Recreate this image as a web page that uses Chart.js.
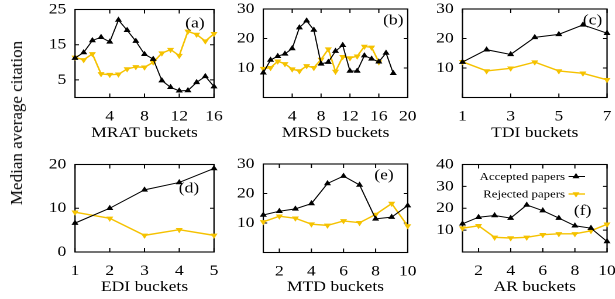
<!DOCTYPE html>
<html><head><meta charset="utf-8">
<script src="https://cdn.jsdelivr.net/npm/chart.js@4"></script>
<style>
html,body{margin:0;padding:0;background:#fff;width:615px;height:299px;overflow:hidden;}
#wrap{position:absolute;left:0;top:0;width:526px;height:299px;transform:scaleX(1.17);transform-origin:0 0;}
#wrap canvas{position:absolute;}
#ytitle{position:absolute;left:17px;top:123px;transform:translate(-50%,-50%) rotate(-90deg);font:17px "Liberation Serif";white-space:nowrap;color:#000;}
</style></head><body>
<div id="wrap"></div>
<div id="ytitle">Median average citation</div>
<script>
// ---------- data ----------
const mratBuckets   = [0,1,2,3,4,5,6,7,8,9,10,11,12,13,14,15,16];
const mratAccepted  = [11.2,12.8,16.2,17.1,15.8,22,19.1,16,12.3,10.9,4.8,2.9,1.9,2,4.3,6,3.1];
const mratRejected  = [11.4,10.7,12.4,6.7,6.5,6.6,8.1,8.7,8.6,10,12.6,13.6,11.9,18.8,17.9,16,18.1];

const mrsdBucketsAcc = [0,1,2,3,4,5,6,7,8,9,10,11,12,13,14,15,16,17,18];
const mrsdAccepted   = [8.4,12.7,14,14.8,16.6,23.7,26,22.9,11.4,12,15.7,17.7,9,9,14.2,13.1,12.1,15.1,8.2];
const mrsdBucketsRej = [0,1,2,3,4,5,6,7,8,9,10,11,12,13,14,15,16];
const mrsdRejected   = [9.8,10.1,12.3,11.4,9.6,9,10.7,10.1,12.9,16.4,8.8,13.8,13.4,14,17.3,17,12];

const tdiBuckets  = [1,2,3,4,5,6,7];
const tdiAccepted = [12,16.2,14.6,20.4,21.4,24.6,21.8];
const tdiRejected = [12.1,9,9.9,12,9,8.2,6];

const ediBuckets  = [1,2,3,4,5];
const ediAccepted = [6.6,10,14.2,15.9,19.1];
const ediRejected = [9.1,7.7,3.8,5.1,3.8];

const mtdBuckets  = [1,2,3,4,5,6,7,8,9,10];
const mtdAccepted = [12.7,14,14.8,16.6,23.4,25.9,22.9,11.4,12,15.9];
const mtdRejected = [10.4,12.3,11.6,9.6,9.2,10.7,10.1,12.9,16.6,9];

const arBuckets  = [1,2,3,4,5,6,7,8,9,10];
const arAccepted = [12.9,15.9,16.7,15.5,21.5,18.9,15.5,12,10.9,4.8];
const arRejected = [10.9,12,6.7,6.4,6.7,7.9,8.3,8.3,9.7,12.7];

// tick labels
const mratXTicks = [4,8,12,16],    mratYTicks = [5,15,25];
const mrsdXTicks = [4,8,12,16,20], mrsdYTicks = [10,20,30];
const tdiXTicks  = [1,3,5,7],      tdiYTicks  = [10,20,30];
const ediXTicks  = [1,2,3,4,5],    ediYTicks  = [0,10,20];
const mtdXTicks  = [2,4,6,8,10],   mtdYTicks  = [10,20,30];
const arXTicks   = [2,4,6,8,10],   arYTicks   = [10,20,30,40];

const seriesNames = ['Accepted papers','Rejected papers'];

// ---------- styling ----------
const S = 1.17;                 // horizontal stretch of the figure
const FONT = 'Liberation Serif';
const BLACK = '#000000', GOLD = '#f5c200';

function pts(xs, ys){ return xs.map((x,i)=>({x:x, y:ys[i]})); }

function tri(ctx, x, y, r, down, color){
  ctx.save();
  ctx.fillStyle = color; ctx.strokeStyle = color; ctx.lineWidth = 1;
  ctx.beginPath();
  const s = down ? -1 : 1;
  ctx.moveTo(x, y - s*r);
  ctx.lineTo(x + r*0.866, y + s*r*0.5);
  ctx.lineTo(x - r*0.866, y + s*r*0.5);
  ctx.closePath(); ctx.fill(); ctx.stroke();
  ctx.restore();
}

const framePlugin = {
  id: 'frame',
  beforeDatasetsDraw(chart){
    const {ctx, chartArea:a, scales} = chart;
    const x = scales.x, y = scales.y;
    ctx.save();
    ctx.strokeStyle = '#000'; ctx.lineWidth = 1.1;
    ctx.strokeRect(a.left, a.top, a.right-a.left, a.bottom-a.top);
    ctx.lineWidth = 1;
    ctx.beginPath();
    const tv = 4, th = 4/S;
    x.ticks.forEach(t=>{ const p = x.getPixelForValue(t.value);
      ctx.moveTo(p, a.bottom); ctx.lineTo(p, a.bottom - tv);
      ctx.moveTo(p, a.top); ctx.lineTo(p, a.top + tv); });
    y.ticks.forEach(t=>{ const p = y.getPixelForValue(t.value);
      ctx.moveTo(a.left, p); ctx.lineTo(a.left + th, p);
      ctx.moveTo(a.right, p); ctx.lineTo(a.right - th, p); });
    ctx.stroke();
    ctx.restore();
  },
  afterDatasetsDraw(chart, args, o){
    const {ctx, chartArea:a, scales} = chart;
    ctx.save();
    ctx.fillStyle = '#000';
    ctx.font = '15px "' + FONT + '"';
    ctx.textAlign = 'center'; ctx.textBaseline = 'alphabetic';
    ctx.fillText(o.label, scales.x.getPixelForValue(o.lx), scales.y.getPixelForValue(o.ly) + 3.6);
    if (o.legend){
      // legend placement in figure pixels, relative to the plot's top-left corner
      const ox = o.L, oy = o.T;
      const u = v => a.left + (v - ox) / S;
      ctx.font = '11px "' + FONT + '"';
      ctx.textAlign = 'right';
      const rows = [{y:176.5, c:BLACK, down:false, w:1},{y:194, c:GOLD, down:true, w:1.4}];
      rows.forEach((r,i)=>{
        const yy = a.top + (r.y - oy);
        ctx.fillStyle = '#000';
        ctx.fillText(seriesNames[i], u(565), yy + 3.7);
        ctx.strokeStyle = r.c; ctx.lineWidth = r.w;
        ctx.beginPath(); ctx.moveTo(u(568.5), yy); ctx.lineTo(u(585), yy); ctx.stroke();
        tri(ctx, u(576), yy, 2.5, r.down, r.c);
      });
    }
    ctx.restore();
  }
};

// plot rectangles in figure pixels
const panels = [
  {L:75, R:214, T:9.5, B:97.5, bot:142, xmin:0, xmax:16, ymin:0, ymax:25, xt:mratXTicks, yt:mratYTicks,
   title:'MRAT buckets', acc:pts(mratBuckets,mratAccepted), rej:pts(mratBuckets,mratRejected), label:'(a)', lx:13.8, ly:20.9},
  {L:263.3, R:407.7, T:9, B:97.5, bot:142, xmin:0, xmax:20, ymin:0, ymax:30, xt:mrsdXTicks, yt:mrsdYTicks,
   title:'MRSD buckets', acc:pts(mrsdBucketsAcc,mrsdAccepted), rej:pts(mrsdBucketsRej,mrsdRejected), label:'(b)', lx:18.0, ly:26},
  {L:462.5, R:607, T:9, B:97.5, bot:142, xmin:1, xmax:7, ymin:0, ymax:30, xt:tdiXTicks, yt:tdiYTicks,
   title:'TDI buckets', acc:pts(tdiBuckets,tdiAccepted), rej:pts(tdiBuckets,tdiRejected), label:'(c)', lx:6.4, ly:26},
  {L:75, R:214, T:164.5, B:252, bot:296, xmin:1, xmax:5, ymin:0, ymax:20, xt:ediXTicks, yt:ediYTicks,
   title:'EDI buckets', acc:pts(ediBuckets,ediAccepted), rej:pts(ediBuckets,ediRejected), label:'(d)', lx:4.28, ly:14.4},
  {L:263.3, R:407.7, T:164, B:252.5, bot:296, xmin:1, xmax:10, ymin:0, ymax:30, xt:mtdXTicks, yt:mtdYTicks,
   title:'MTD buckets', acc:pts(mtdBuckets,mtdAccepted), rej:pts(mtdBuckets,mtdRejected), label:'(e)', lx:8.52, ly:25.9},
  {L:462.5, R:607, T:164.5, B:252, bot:296, xmin:1, xmax:10, ymin:0, ymax:40, xt:arXTicks, yt:arYTicks,
   title:'AR buckets', acc:pts(arBuckets,arAccepted), rej:pts(arBuckets,arRejected), label:'(f)', lx:8.48, ly:18.6, legend:true}
];

const wrap = document.getElementById('wrap');
panels.forEach(p=>{
  const Lu = p.L / S, Ru = p.R / S;
  const cl = Math.floor(Lu) - 45, ct = Math.floor(p.T) - 22;
  const cw = Math.ceil(Ru - cl + 24), ch = Math.round(p.bot - ct);
  const cv = document.createElement('canvas');
  cv.style.left = cl + 'px'; cv.style.top = ct + 'px';
  cv.style.width = cw + 'px'; cv.style.height = ch + 'px';
  cv.width = cw; cv.height = ch;
  wrap.appendChild(cv);
  const tickFont = {family: FONT, size: 15};
  new Chart(cv, {
    type: 'line',
    data: { datasets: [
      {label: seriesNames[0], data: p.acc, borderColor: BLACK, backgroundColor: BLACK, borderWidth: 1,
       pointStyle: 'triangle', pointRadius: 2.5, pointBorderWidth: 1, pointBackgroundColor: BLACK, pointBorderColor: BLACK,
       tension: 0, clip: false, order: 1},
      {label: seriesNames[1], data: p.rej, borderColor: GOLD, backgroundColor: GOLD, borderWidth: 1.4,
       pointStyle: 'triangle', pointRotation: 180, pointRadius: 2.5, pointBorderWidth: 1, pointBackgroundColor: GOLD, pointBorderColor: GOLD,
       tension: 0, clip: false, order: 2}
    ]},
    options: {
      responsive: false, animation: false, devicePixelRatio: 2,
      layout: { autoPadding: false, padding: {left: 0, top: p.T - ct, right: cw - (Ru - cl), bottom: 0} },
      plugins: { legend: {display: false}, tooltip: {enabled: false},
        frame: {label: p.label, lx: p.lx, ly: p.ly, legend: !!p.legend, L: p.L, T: p.T} },
      scales: {
        x: { type: 'linear', min: p.xmin, max: p.xmax,
          afterBuildTicks: s => { s.ticks = p.xt.map(v=>({value:v})); },
          afterFit: s => { s.height = ct + ch - p.B; },
          grid: {display: false, drawTicks: false}, border: {display: false},
          ticks: {font: tickFont, color: '#000', padding: 10, autoSkip: false, maxRotation: 0, callback: v => String(v)},
          title: {display: true, text: p.title, font: {family: FONT, size: 15}, color: '#000', padding: 0}
        },
        y: { type: 'linear', min: p.ymin, max: p.ymax,
          afterBuildTicks: s => { s.ticks = p.yt.map(v=>({value:v})); },
          afterFit: s => { s.width = Lu - cl; },
          grid: {display: false, drawTicks: false}, border: {display: false},
          ticks: {font: tickFont, color: '#000', padding: 7.5, autoSkip: false, callback: v => String(v)}
        }
      }
    },
    plugins: [framePlugin]
  });
});
</script>
</body></html>
